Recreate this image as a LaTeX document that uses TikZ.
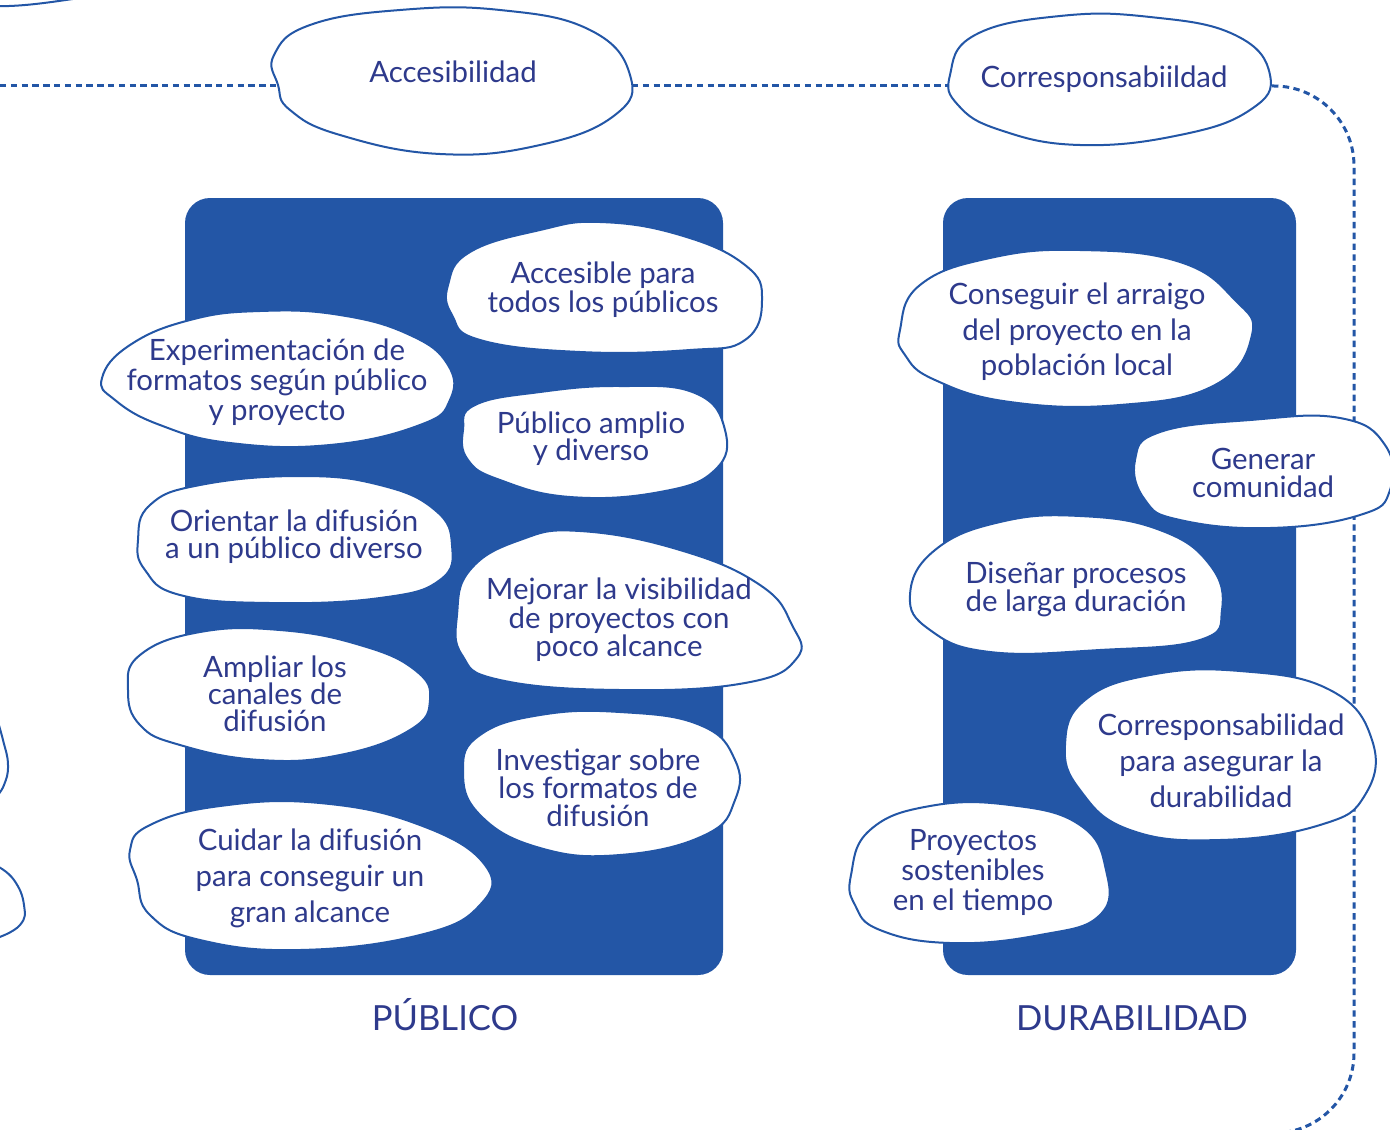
\documentclass[tikz,border=0pt]{standalone}
\usepackage{fontspec}
\setmainfont{Lato}
\definecolor{boxblue}{HTML}{2356A6}
\definecolor{txtblue}{HTML}{2E3A8C}
\tikzset{
  blob/.style={draw=boxblue, fill=white, line width=1pt},
  lbl/.style={text=txtblue, align=center, inner sep=0pt, font=\fontsize{14.7}{#1}\selectfont},
  lbl/.default=15,
  panel/.style={fill=boxblue, rounded corners=12.5pt},
  conn/.style={draw=boxblue, line width=1.5pt, dash pattern=on 3.2pt off 2.2pt},
  title/.style={text=txtblue, inner sep=0pt, font=\fontsize{17.3}{18}\selectfont},
  edge blob/.style={draw=boxblue, line width=1pt},
}
\begin{document}
\begin{tikzpicture}[x=0.5pt,y=-0.5pt]
\useasboundingbox (0,0) rectangle (1390,1129);
\clip (0,0) rectangle (1390,1129);

% panels
\fill[panel] (185,198) rectangle (723,975);
\fill[panel] (943,198) rectangle (1296,975);

% connector coordinates
\coordinate (lstart) at (0,86);
\coordinate (accW) at (278,86);
\coordinate (accE) at (632,86);
\coordinate (corW) at (949,86);
\coordinate (corE) at (1272,86);
\coordinate (rend) at (1150,1133);

\draw[conn] (lstart) -- (accW);
\draw[conn] (accE) -- (corW);
\draw[conn, rounded corners=40pt] (corE) -- (1354,86) -- (1354,1133) -- (rend);

% partial blobs at edges
\draw[edge blob] (-20,6) to[out=-2,in=188] (80,-2);
\draw[edge blob] plot[smooth, tension=0.8] coordinates {(-5,712) (3,740) (8,765) (4,785) (-4,797)};
\draw[edge blob] plot[smooth, tension=0.8] coordinates {(-3,866) (14,880) (24,905) (20,925) (-3,938)};

% top blobs
\draw[blob] plot[smooth cycle, tension=0.75] coordinates {(274,55) (310,25) (400,10) (500,10) (590,30) (630,75) (615,115) (540,145) (440,154) (340,135) (290,110) (278,85)};
\draw[blob] plot[smooth cycle, tension=0.75] coordinates {(950,75) (975,35) (1060,16) (1150,17) (1235,35) (1270,75) (1250,110) (1180,135) (1080,145) (1000,130) (958,105)};

% publico blobs
\draw[blob] plot[smooth cycle, tension=0.75] coordinates {(448,285) (470,252) (540,230) (600,222) (680,235) (745,265) (762,300) (745,340) (690,350) (580,352) (480,340) (452,315)};
\draw[blob] plot[smooth cycle, tension=0.75] coordinates {(102,378) (130,345) (190,320) (260,311) (340,315) (410,335) (448,365) (450,400) (420,425) (330,445) (230,443) (160,425) (115,400)};
\draw[blob] plot[smooth cycle, tension=0.75] coordinates {(463,430) (475,405) (540,392) (620,386) (695,393) (725,430) (715,470) (660,492) (570,497) (500,480) (468,460)};
\draw[blob] plot[smooth cycle, tension=0.75] coordinates {(138,540) (150,505) (200,485) (300,476) (380,485) (435,510) (452,545) (440,580) (380,598) (270,603) (180,595) (145,570)};
\draw[blob] plot[smooth cycle, tension=0.75] coordinates {(457,615) (470,570) (520,540) (580,531) (680,550) (760,585) (792,625) (797,658) (745,683) (620,690) (500,680) (462,655)};
\draw[blob] plot[smooth cycle, tension=0.75] coordinates {(128,690) (140,655) (200,632) (280,630) (360,645) (415,670) (430,700) (410,730) (340,755) (260,760) (180,745) (140,725)};
\draw[blob] plot[smooth cycle, tension=0.75] coordinates {(463,770) (480,735) (540,715) (620,712) (700,725) (735,760) (735,800) (705,835) (620,855) (540,848) (480,815)};
\draw[blob] plot[smooth cycle, tension=0.75] coordinates {(130,850) (150,825) (220,806) (320,803) (420,825) (485,865) (480,905) (420,935) (300,950) (200,940) (150,915) (137,880)};

% durabilidad blobs
\draw[blob] plot[smooth cycle, tension=0.75] coordinates {(900,330) (920,285) (990,258) (1080,250) (1180,262) (1235,300) (1252,335) (1215,385) (1120,405) (1010,402) (935,380) (905,355)};
\draw[blob] plot[smooth cycle, tension=0.75] coordinates {(1135,460) (1160,432) (1250,420) (1340,418) (1385,445) (1390,490) (1360,515) (1270,528) (1180,520) (1145,500)};
\draw[blob] plot[smooth cycle, tension=0.75] coordinates {(910,595) (935,550) (1000,522) (1080,516) (1160,530) (1210,565) (1222,610) (1200,640) (1100,650) (990,652) (930,630)};
\draw[blob] plot[smooth cycle, tension=0.75] coordinates {(1065,745) (1085,700) (1150,675) (1240,671) (1330,690) (1372,740) (1365,795) (1320,825) (1220,840) (1130,830) (1080,790)};
\draw[blob] plot[smooth cycle, tension=0.75] coordinates {(851,875) (870,830) (930,806) (1010,805) (1080,825) (1106,870) (1100,915) (1040,935) (950,943) (880,930) (855,905)};

% texts
\node[lbl] (acc) at (453,72) {Accesibilidad};
\node[lbl] (cor) at (1104,79) {Corresponsabiildad};

\node[lbl=14.5] (pa) at (603,290) {Accesible para\\todos los públicos};
\node[lbl=15] (pb) at (277,382) {Experimentación de\\formatos según público\\y proyecto};
\node[lbl=13.6] (pc) at (591,439) {Público amplio\\y diverso};
\node[lbl=13.6] (pd) at (294,537) {Orientar la difusión\\a un público diverso};
\node[lbl=14.3] (pe) at (619,620) {Mejorar la visibilidad\\de proyectos con\\poco alcance};
\node[lbl=13.6] (pf) at (275,694) {Ampliar los\\canales de\\difusión};
\node[lbl=14] (pg) at (598,788) {Investigar sobre\\los formatos de\\difusión};
\node[lbl=18] (ph) at (310,878) {Cuidar la difusión\\para conseguir un\\gran alcance};

\node[lbl=17.8] (di) at (1077,332) {Conseguir el arraigo\\del proyecto en la\\población local};
\node[lbl=13.6] (dj) at (1263,473) {Generar\\comunidad};
\node[lbl=14] (dk) at (1076,589) {Diseñar procesos\\de larga duración};
\node[lbl=18] (dl) at (1221,761) {Corresponsabilidad\\para asegurar la\\durabilidad};
\node[lbl=15] (dm) at (973,872) {Proyectos\\sostenibles\\en el tiempo};

\node[title, anchor=base] (tp) at (445,1030) {PÚBLICO};
\node[title, anchor=base] (td) at (1132,1030) {DURABILIDAD};
\end{tikzpicture}
\end{document}
